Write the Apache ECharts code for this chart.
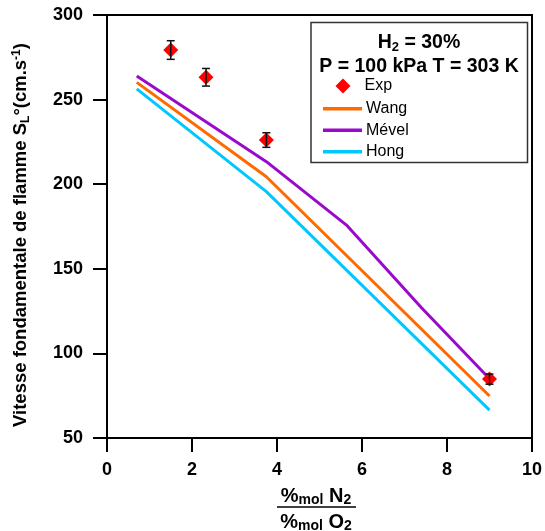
<!DOCTYPE html>
<html>
<head>
<meta charset="utf-8">
<script src="https://cdn.jsdelivr.net/npm/echarts@6/dist/echarts.min.js"></script>
<style>html,body{margin:0;padding:0;background:#fff}#c{width:545px;height:531px}</style>
</head>
<body>
<div id="c"></div>
<script>
// Data
var expX = [1.5, 2.33, 3.75, 9.0];
var expY = [279.3, 263.2, 226.1, 84.8];
var expErr = [5.5, 5.2, 4.3, 3.0];

var wangX = [0.7, 3.75, 9.0];
var wangY = [260.2, 204.4, 74.8];

var mevelX = [0.7, 3.75, 5.65, 7.4, 9.0];
var mevelY = [264.0, 213.3, 175.5, 127.0, 85.0];

var hongX = [0.7, 3.75, 9.0];
var hongY = [256.3, 195.6, 66.5];

var xTicks = [0, 2, 4, 6, 8, 10];
var yTicks = [50, 100, 150, 200, 250, 300];

function pairs(xs, ys) { return xs.map(function (x, i) { return [x, ys[i]]; }); }

var FONT = 'Liberation Sans, Arial, sans-serif';
var chart = echarts.init(document.getElementById('c'), null, {renderer: 'canvas'});

var option = {
  animation: false,
  backgroundColor: '#fff',
  grid: {left: 107, right: 13, top: 15, bottom: 93, show: true, borderColor: '#000', borderWidth: 2,
         backgroundColor: 'transparent', containLabel: false, outerBoundsMode: 'none'},
  xAxis: {
    type: 'value', min: xTicks[0], max: xTicks[xTicks.length - 1], interval: 2,
    axisLine: {show: true, lineStyle: {color: '#000', width: 2}},
    axisTick: {show: true, inside: false, length: 14, lineStyle: {color: '#000', width: 2}},
    axisLabel: {color: '#000', fontFamily: FONT, fontWeight: 'bold', fontSize: 18, margin: 23},
    splitLine: {show: false}
  },
  yAxis: {
    type: 'value', min: yTicks[0], max: yTicks[yTicks.length - 1], interval: 50,
    axisLine: {show: true, lineStyle: {color: '#000', width: 2}},
    axisTick: {show: true, inside: false, length: 14, lineStyle: {color: '#000', width: 2}},
    axisLabel: {color: '#000', fontFamily: FONT, fontWeight: 'bold', fontSize: 18, margin: 24},
    splitLine: {show: false}
  },
  legend: [
    {
      data: [{name: 'Exp', icon: 'diamond'}],
      left: 330.5, top: 73, orient: 'vertical', selectedMode: false, z: 20,
      itemWidth: 15, itemHeight: 15,
      textStyle: {fontFamily: FONT, fontSize: 16, color: '#000', padding: [0, 0, 0, 9]}
    },
    {
      data: [{name: 'Wang', icon: 'rect'}, {name: 'Mével', icon: 'rect'}, {name: 'Hong', icon: 'rect'}],
      left: 318, top: 95.5, orient: 'vertical', selectedMode: false, z: 20,
      itemWidth: 39, itemHeight: 3.5, itemGap: 5.0,
      textStyle: {fontFamily: FONT, fontSize: 16, color: '#000', lineHeight: 16.5, padding: [0, 0, 0, -1]}
    }
  ],
  graphic: [
    {type: 'rect', shape: {x: 311, y: 22.5, width: 216.5, height: 140}, style: {fill: '#fff', stroke: '#333', lineWidth: 1.5}, z: 1},
    {type: 'text', x: 419, y: 43, z: 11, style: {
      text: 'H{sub|2} = 30%', textAlign: 'center', textVerticalAlign: 'middle',
      font: 'bold 19.5px ' + FONT, fill: '#000',
      rich: {sub: {font: 'bold 13px ' + FONT, fill: '#000', verticalAlign: 'bottom', padding: [8, 0, 0, 0]}}
    }},
    {type: 'text', x: 419, y: 67, z: 11, style: {
      text: 'P = 100 kPa T = 303 K', textAlign: 'center', textVerticalAlign: 'middle',
      font: 'bold 19.5px ' + FONT, fill: '#000'
    }},
    {type: 'text', x: 21, y: 235, rotation: Math.PI / 2, z: 11, style: {
      text: 'Vitesse fondamentale de flamme S{sub|L}°(cm.s{sup|-1})', textAlign: 'center', textVerticalAlign: 'middle',
      font: 'bold 18.5px ' + FONT, fill: '#000',
      rich: {
        sub: {font: 'bold 12px ' + FONT, fill: '#000', verticalAlign: 'bottom', padding: [9, 0, 0, 0]},
        sup: {font: 'bold 12px ' + FONT, fill: '#000', verticalAlign: 'top', padding: [0, 0, 9, 0]}
      }
    }},
    {type: 'text', x: 316, y: 496, z: 11, style: {
      text: '%{sub|mol} N{sub|2}', textAlign: 'center', textVerticalAlign: 'middle',
      font: 'bold 20px ' + FONT, fill: '#000',
      rich: {sub: {font: 'bold 14px ' + FONT, fill: '#000', verticalAlign: 'bottom', padding: [8, 0, 0, 0]}}
    }},
    {type: 'line', shape: {x1: 277, y1: 507, x2: 356, y2: 507}, style: {stroke: '#000', lineWidth: 1.5}, z: 11},
    {type: 'text', x: 316, y: 522, z: 11, style: {
      text: '%{sub|mol} O{sub|2}', textAlign: 'center', textVerticalAlign: 'middle',
      font: 'bold 20px ' + FONT, fill: '#000',
      rich: {sub: {font: 'bold 14px ' + FONT, fill: '#000', verticalAlign: 'bottom', padding: [8, 0, 0, 0]}}
    }}
  ],
  series: [
    {name: 'Wang', type: 'line', data: pairs(wangX, wangY), symbol: 'none', color: '#FF6A00', lineStyle: {color: '#FF6A00', width: 3}, z: 2},
    {name: 'Mével', type: 'line', data: pairs(mevelX, mevelY), symbol: 'none', color: '#9A0ACD', lineStyle: {color: '#9A0ACD', width: 3}, z: 2},
    {name: 'Hong', type: 'line', data: pairs(hongX, hongY), symbol: 'none', color: '#00C8FF', lineStyle: {color: '#00C8FF', width: 3}, z: 2},
    {name: 'Exp', type: 'scatter', data: pairs(expX, expY), symbol: 'diamond', symbolSize: [15, 15], color: '#FF0000', itemStyle: {color: '#FF0000', opacity: 1}, z: 3},
    {
      name: 'ExpErr', type: 'custom', z: 4,
      data: expX.map(function (x, i) { return [x, expY[i] - expErr[i], expY[i] + expErr[i]]; }),
      renderItem: function (params, api) {
        var lo = api.coord([api.value(0), api.value(1)]);
        var hi = api.coord([api.value(0), api.value(2)]);
        var w = 4;
        var st = {stroke: '#111', lineWidth: 1.5, fill: null};
        return {type: 'group', children: [
          {type: 'line', shape: {x1: lo[0], y1: lo[1], x2: hi[0], y2: hi[1]}, style: st},
          {type: 'line', shape: {x1: lo[0] - w, y1: lo[1], x2: lo[0] + w, y2: lo[1]}, style: st},
          {type: 'line', shape: {x1: hi[0] - w, y1: hi[1], x2: hi[0] + w, y2: hi[1]}, style: st}
        ]};
      }
    }
  ]
};
chart.setOption(option);
</script>
</body>
</html>
